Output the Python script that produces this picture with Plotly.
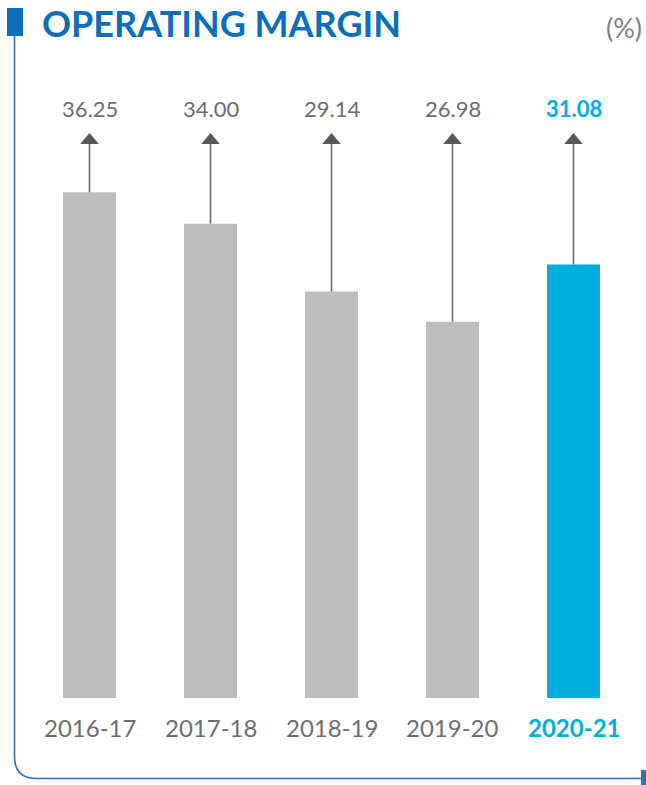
import plotly.graph_objects as go

years = ["2016-17", "2017-18", "2018-19", "2019-20", "2020-21"]
margin = [36.25, 34.00, 29.14, 26.98, 31.08]
labels = ["36.25", "34.00", "29.14", "26.98", "31.08"]

GRAY_BAR = "#BDBEC0"
BLUE_BAR = "#00AEE0"
TXT_GRAY = "#6D6E71"
TITLE_BLUE = "#0B6FBC"
LINE_BLUE = "#2A73C2"
ARROW = "#6A6A6A"

W, H = 646, 785
ML, MR, MT, MB = 29, 12, 70, 87
PW, PH = W - ML - MR, H - MT - MB
YMAX = PH / 13.95

def px(xp):
    return (xp - ML) / PW

def py(yp):
    return 1 - (yp - MT) / PH

def ydata(yp):
    return (H - MB - yp) / PH * YMAX

n = len(years)
xs = list(range(n))
colors = [GRAY_BAR] * (n - 1) + [BLUE_BAR]

fig = go.Figure()
fig.add_trace(go.Bar(x=xs, y=margin, marker_color=colors, marker_line_width=0,
                     width=53 / 121, hoverinfo="skip"))

shapes = []
annotations = []
tip_y = ydata(133)
base_y = ydata(144)
hw = 9.3 / 121
for i, v in enumerate(margin):
    shapes.append(dict(type="line", xref="x", yref="y", x0=i, x1=i, y0=v, y1=base_y,
                       line=dict(color=ARROW, width=1.6), layer="above"))
    shapes.append(dict(type="path", xref="x", yref="y",
                       path=f"M {i-hw},{base_y} L {i+hw},{base_y} L {i},{tip_y} Z",
                       fillcolor="#58595B", line=dict(width=0), layer="above"))
    last = i == n - 1
    annotations.append(dict(x=i, y=py(108), xref="x", yref="paper", text=(f"<b>{labels[i]}</b>" if last else labels[i]),
                            showarrow=False, yanchor="middle", xanchor="center",
                            font=dict(family="Lato", size=22, color=BLUE_BAR if last else TXT_GRAY)))
    annotations.append(dict(x=i, y=py(727), xref="x", yref="paper", text=(f"<b>{years[i]}</b>" if last else years[i]),
                            showarrow=False, yanchor="middle", xanchor="center",
                            font=dict(family="Lato", size=24, color=BLUE_BAR if last else TXT_GRAY)))

# title
annotations.append(dict(x=px(40), y=py(23), xref="paper", yref="paper", text="<b>OPERATING MARGIN</b>",
                        showarrow=False, xanchor="left", yanchor="middle",
                        font=dict(family="Lato", size=36, color=TITLE_BLUE)))
annotations.append(dict(x=px(644), y=py(27), xref="paper", yref="paper", text="(%)",
                        showarrow=False, xanchor="right", yanchor="middle",
                        font=dict(family="Lato", size=27, color="#808080")))

# decorative frame
shapes.append(dict(type="rect", xref="paper", yref="paper", x0=px(7), x1=px(23), y0=py(36), y1=py(8),
                   fillcolor=TITLE_BLUE, line=dict(width=0)))
r = 22
shapes.append(dict(type="path", xref="paper", yref="paper",
                   path=(f"M {px(14.5)},{py(36)} L {px(14.5)},{py(778.5 - r)} "
                         f"Q {px(14.5)},{py(778.5)} {px(14.5 + r)},{py(778.5)} L {px(641)},{py(778.5)}"),
                   line=dict(color=LINE_BLUE, width=1.6)))
shapes.append(dict(type="rect", xref="paper", yref="paper", x0=px(641), x1=px(646), y0=py(785), y1=py(770),
                   fillcolor=LINE_BLUE, line=dict(width=0)))

fig.update_layout(
    width=W, height=H,
    margin=dict(l=ML, r=MR, t=MT, b=MB),
    paper_bgcolor="white", plot_bgcolor="white",
    showlegend=False,
    xaxis=dict(range=[-0.5, n - 0.5], visible=False, fixedrange=True),
    yaxis=dict(range=[0, YMAX], visible=False, fixedrange=True),
    shapes=shapes, annotations=annotations,
)
fig.write_html("out.html")
